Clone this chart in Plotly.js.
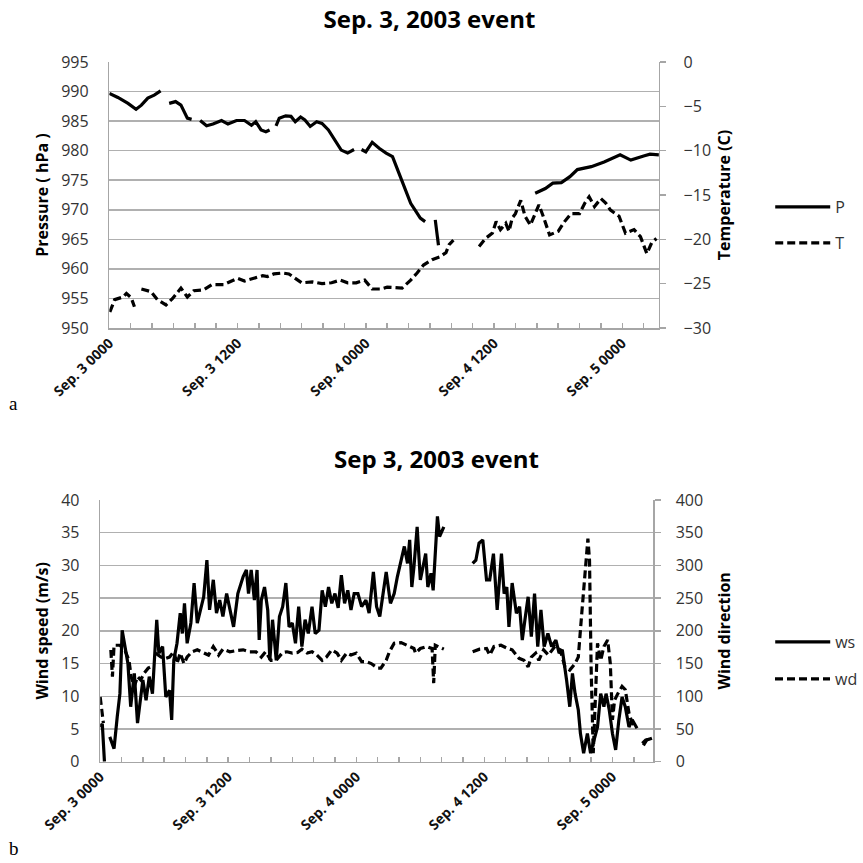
<!DOCTYPE html>
<html><head><meta charset="utf-8">
<script src="https://cdn.plot.ly/plotly-3.0.1.min.js"></script>
<style>html,body{margin:0;padding:0;background:#fff}</style>
</head><body><div id="chart" style="width:863px;height:863px"></div>
<script>
// ---- Panel a: pressure and temperature (hours since Sep. 3 0000) ----
const pHours = [0,0.8,1.75,2.5,3.0,3.6,4.2,4.8,5.2,5.6,6.2,6.7,7.3,7.7,8.1,8.5,9.1,9.7,10.5,11.1,11.9,12.65,13.3,13.7,14.2,14.65,15.0,15.3,15.6,15.9,16.5,17.0,17.4,17.9,18.3,18.8,19.4,19.9,20.5,21.1,21.7,22.3,22.9,23.25,23.6,24.0,24.6,25.25,25.9,26.5,27.1,27.7,28.2,28.6,29.1,29.55,30.0,30.5,30.8,31.2,39.85,40.8,41.5,42.3,43.1,43.8,45.1,46.3,47.8,48.8,50.0,50.6,51.43];
const pressure = [989.7,989.0,988.0,987.0,987.7,988.9,989.4,990.1,null,988.0,988.3,987.7,985.5,985.3,null,985.1,984.2,984.5,985.1,984.5,985.1,985.1,984.3,984.9,983.5,983.2,983.5,null,984.2,985.5,985.9,985.8,984.9,985.7,985.2,984.1,984.9,984.6,983.5,981.9,980.1,979.6,980.2,null,980.2,979.8,981.4,980.4,979.6,979.0,976.2,973.3,971.1,970.0,968.6,968.0,null,968.3,964.0,null,972.8,973.6,974.5,974.6,975.6,976.8,977.3,978.1,979.3,978.4,979.1,979.4,979.3];
const tHours = [0.05,0.5,1.3,1.6,2.05,2.35,2.7,3.0,3.9,4.5,5.3,5.9,6.7,7.3,7.9,8.8,9.6,10.7,11.3,12.0,12.65,13.4,14.35,14.8,15.4,16.2,16.8,17.4,18.0,19.0,19.9,20.8,21.6,22.3,23.1,23.9,24.6,25.4,26.0,27.4,28.2,28.8,29.4,30.2,30.9,31.5,31.8,32.2,33.4,34.6,35.2,35.85,36.2,36.6,37.1,37.4,37.7,38.0,38.5,38.9,39.4,39.85,40.2,40.6,41.2,42.0,42.6,43.2,44.0,44.5,44.9,45.4,46.0,46.45,46.9,47.7,48.3,49.1,49.7,50.3,50.75,51.2];
const temperature = [-28.2,-26.8,-26.5,-26.1,-26.6,-27.6,null,-25.6,-25.9,-26.8,-27.4,-26.7,-25.5,-26.5,-25.8,-25.7,-25.1,-25.1,-24.8,-24.4,-24.7,-24.4,-24.1,-24.2,-23.9,-23.8,-23.9,-24.4,-24.9,-24.8,-25.0,-24.9,-24.6,-24.9,-24.9,-24.6,-25.6,-25.6,-25.4,-25.5,-24.6,-23.8,-22.9,-22.3,-22.0,-21.5,-20.6,-20.1,null,-20.8,-19.9,-19.3,-18.0,-18.9,-18.2,-19.1,-17.6,-17.1,-15.6,-17.4,-18.4,-17.1,-16.1,-17.4,-19.5,-19.1,-18.0,-17.1,-17.1,-15.9,-15.2,-16.3,-15.4,-15.9,-16.7,-17.4,-19.3,-18.9,-19.7,-21.6,-20.4,-19.9];

// ---- Panel b: wind speed and wind direction ----
const wsHours = [0,0.2,0.4,0.6,0.9,1.3,1.6,1.85,2.06,2.3,2.6,2.86,3.2,3.5,3.8,4.0,4.3,4.6,4.9,5.3,5.5,5.85,6.15,6.5,6.7,6.9,7.2,7.5,7.7,7.9,8.15,8.5,8.8,9.1,9.4,9.7,10.0,10.25,10.6,10.9,11.2,11.5,11.85,12.15,12.5,12.9,13.4,13.7,13.9,14.15,14.45,14.7,14.9,15.1,15.4,15.7,15.9,16.15,16.5,16.8,17.1,17.4,17.7,18.0,18.3,18.6,18.9,19.2,19.5,19.85,20.15,20.5,20.8,21.1,21.4,21.7,22.0,22.3,22.6,22.9,23.2,23.5,23.8,24.15,24.5,24.9,25.2,25.6,25.9,26.2,26.5,26.8,27.2,27.55,27.85,28.2,28.5,28.8,29.0,29.2,29.4,29.7,30.0,30.25,30.5,30.7,31.0,31.2,31.4,31.6,31.8,32.2,32.6,34.9,35.2,35.5,35.85,36.2,36.5,36.85,37.2,37.6,37.85,38.1,38.3,38.6,39.0,39.3,39.55,39.8,40.1,40.4,40.7,41.0,41.3,41.6,41.95,42.3,42.7,43.0,43.3,43.7,44.0,44.25,44.5,44.8,45.0,45.3,45.65,45.95,46.25,46.6,46.9,47.2,47.4,47.7,48.0,48.3,48.6,48.9,49.2,49.55,49.85,50.2,50.3,50.6,50.9,51.2,51.7];
const windSpeed = [5.3,5.8,0,null,3.8,2.0,6.9,10.4,20.1,17.6,15.0,8.4,13.5,5.9,10.4,12.5,9.4,13.0,10.4,21.7,16.6,17.6,9.9,10.9,6.4,15.5,18.1,22.7,19.6,24.2,18.1,21.2,27.3,21.2,23.2,25.2,30.8,23.2,27.8,22.7,24.7,22.2,25.7,23.2,20.6,25.7,28.3,29.3,25.7,29.3,24.7,29.3,18.6,24.7,26.7,23.2,15.5,21.7,15.5,22.2,23.7,27.3,20.6,21.2,18.1,23.7,17.6,21.7,19.6,23.7,19.6,20.1,26.2,23.7,26.7,24.2,25.7,23.5,28.5,24.2,26.2,23.2,25.7,25.7,23.7,24.7,22.7,29.0,23.7,22.2,25.7,29.0,24.2,25.7,28.3,30.8,32.9,30.3,33.9,26.7,29.8,35.9,27.8,29.8,31.8,26.7,28.8,26.2,32.9,37.5,34.4,35.9,null,30.3,30.8,33.4,33.9,27.8,27.8,31.8,23.2,31.8,25.7,26.7,20.6,27.3,22.7,23.7,18.6,21.7,25.2,19.1,25.7,17.6,23.2,17.6,19.6,17.6,18.6,16.6,17.1,12.5,8.4,13.5,10.4,7.9,4.3,1.3,4.3,1.3,3.3,5.3,10.4,8.4,10.4,7.9,4.3,1.8,6.4,9.9,8.4,5.3,6.4,5.3,5.1,null,2.5,3.3,3.6];
const wdHours = [0,0.3,0.6,1.0,1.15,1.3,1.85,2.3,2.7,2.9,3.2,3.5,3.8,4.1,4.5,4.9,5.05,5.2,5.7,6.15,6.5,6.9,7.2,7.5,7.85,8.15,8.6,9.1,9.7,10.15,10.6,11.1,11.5,12.15,12.8,13.4,14.0,14.6,15.1,15.5,16.0,16.5,17.1,17.5,18.0,18.5,18.9,19.4,19.85,20.3,20.8,21.2,21.7,22.2,22.6,23.1,23.5,24.0,24.5,24.9,25.4,26.0,26.3,26.8,27.1,27.55,28.2,28.8,29.4,29.55,30.0,30.6,31.1,31.25,31.4,32.2,32.6,34.9,35.55,36.2,36.5,36.9,37.55,38.2,38.6,39.25,39.7,40.1,40.4,40.8,41.1,41.55,42.0,42.6,43.1,43.55,44.0,44.5,44.8,45.15,45.5,45.7,45.85,46.0,46.2,46.4,46.6,46.9,47.2,47.55,47.8,48.0,48.2,48.5,48.9,49.2,49.55,49.85,50.2,50.6,50.8,51.1,51.55];
const windDir = [99,59,null,171,130,178,178,171,155,130,115,130,125,135,143,146,null,166,160,158,160,168,150,166,150,160,168,171,166,163,176,163,172,168,170,171,168,168,160,168,155,155,167,168,166,167,172,166,168,163,155,160,171,166,155,166,163,166,153,153,150,143,143,155,168,181,182,178,173,166,173,176,173,120,178,172,null,168,172,173,163,176,178,173,171,158,155,145,160,166,155,171,163,176,171,145,140,150,160,232,308,341,308,145,13,104,181,155,176,186,150,64,94,104,115,110,74,59,54,null,28,33,35];

// ---- tick labels ----
const dayTickVals = [0,12,24,36,48];
const dayTickText = ['Sep. 3 0000','Sep. 3 1200','Sep. 4 0000','Sep. 4 1200','Sep. 5 0000'];

const FONT = 'Open Sans, Noto Sans, sans-serif';
const AX = '#a6a6a6', GRID = '#b0b0b0', LW = 3.2;
const dashPat = '8px,4px';

const traces = [
  {x:pHours, y:pressure, name:'P', type:'scatter', mode:'lines', xaxis:'x', yaxis:'y', connectgaps:false,
   line:{color:'#000', width:LW}, legend:'legend'},
  {x:tHours, y:temperature, name:'T', type:'scatter', mode:'lines', xaxis:'x', yaxis:'y2', connectgaps:false,
   line:{color:'#000', width:LW, dash:dashPat}, legend:'legend2'},
  {x:wsHours, y:windSpeed, name:'ws', type:'scatter', mode:'lines', xaxis:'x2', yaxis:'y3', connectgaps:false,
   line:{color:'#000', width:LW}, legend:'legend3'},
  {x:wdHours, y:windDir, name:'wd', type:'scatter', mode:'lines', xaxis:'x2', yaxis:'y4', connectgaps:false,
   line:{color:'#000', width:LW, dash:dashPat}, legend:'legend4'}
];

function xAxis(domain, anchor, range){
  return {domain:domain, anchor:anchor, range:range, showgrid:false, zeroline:false,
    showline:true, linecolor:AX, linewidth:1.5, ticks:'inside', ticklen:5, tickcolor:AX, tickwidth:1.5,
    tickmode:'array', tickvals:dayTickVals, ticktext:dayTickText, tickangle:-44,
    tickfont:{family:FONT, size:14, color:'#111', weight:'bold'},
    minor:{tickmode:'linear', tick0:0, dtick:2, ticks:'inside', ticklen:5, tickcolor:AX, tickwidth:1.5, showgrid:false},
    fixedrange:true};
}
function leftY(domain, anchor, range, dtick, title){
  return {domain:domain, anchor:anchor, range:range, tick0:range[0], dtick:dtick, showgrid:true, gridcolor:GRID, gridwidth:1.5,
    zeroline:false, showline:true, linecolor:AX, linewidth:1.5, ticks:'', ticklabelstandoff:16,
    tickfont:{family:FONT, size:16, color:'#333'},
    title:{text:title, standoff:8, font:{family:FONT, size:16, color:'#000', weight:'bold'}}};
}
function rightY(over, anchor, range, dtick, title, labelGap, titleGap){
  return {overlaying:over, side:'right', anchor:anchor, range:range, tick0:range[0], dtick:dtick, showgrid:false,
    zeroline:false, showline:true, linecolor:AX, linewidth:1.5, ticks:'outside', ticklen:6, tickcolor:AX, tickwidth:1.5,
    ticklabelstandoff:labelGap, tickfont:{family:FONT, size:16, color:'#333'},
    title:{text:title, standoff:titleGap, font:{family:FONT, size:16, color:'#000', weight:'bold'}}};
}
function leg(ypx){
  return {x:782/863, xanchor:'left', y:1-ypx/863, yanchor:'middle', itemwidth:55, bgcolor:'rgba(0,0,0,0)',
    font:{family:FONT, size:16, color:'#333'}};
}

const layout = {
  width:863, height:863, margin:{l:0, r:0, t:0, b:0}, paper_bgcolor:'#fff', plot_bgcolor:'#fff',
  font:{family:FONT},
  showlegend:true,
  title:{text:'Sep. 3, 2003 event', x:436/863, xanchor:'center', xref:'paper', yref:'paper', y:1-20/863, yanchor:'middle',
    font:{family:FONT, size:24, color:'#000', weight:'bold'}},
  xaxis: xAxis([111/863, 669/863], 'y', [0, 51.43]),
  yaxis: leftY([(863-328)/863, (863-62)/863], 'x', [950, 995], 5, 'Pressure ( hPa )'),
  yaxis2: rightY('y', 'x', [-30, 0], 5, 'Temperature (C)', 14, 8),
  xaxis2: xAxis([101.7/863, 663/863], 'y3', [0, 51.8]),
  yaxis3: leftY([(863-761.7)/863, (863-500)/863], 'x2', [0, 40], 5, 'Wind speed (m/s)'),
  yaxis4: rightY('y3', 'x2', [0, 400], 50, 'Wind direction', 12, 16),
  legend: leg(207), legend2: leg(243), legend3: leg(642), legend4: leg(679),
  annotations:[
    {text:'Sep 3, 2003 event', xref:'paper', yref:'paper', x:443/863, y:1-458/863, xanchor:'center', yanchor:'middle',
     showarrow:false, font:{family:FONT, size:24, color:'#000', weight:'bold'}},
    {text:'a', xref:'paper', yref:'paper', x:14/863, y:1-403/863, xanchor:'center', yanchor:'middle', showarrow:false,
     font:{family:'Liberation Serif, DejaVu Serif, serif', size:19, color:'#000'}},
    {text:'b', xref:'paper', yref:'paper', x:14/863, y:1-848/863, xanchor:'center', yanchor:'middle', showarrow:false,
     font:{family:'Liberation Serif, DejaVu Serif, serif', size:19, color:'#000'}}
  ]
};

Plotly.newPlot('chart', traces, layout, {displayModeBar:false, staticPlot:true});
</script>
</body></html>
